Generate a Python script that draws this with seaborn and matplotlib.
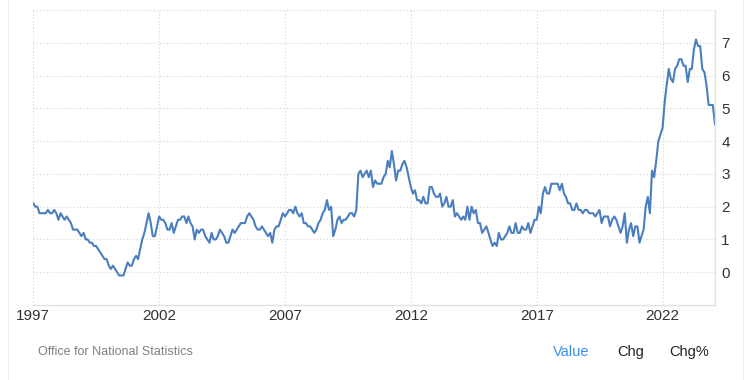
import matplotlib
matplotlib.use("Agg")
import matplotlib.pyplot as plt
import seaborn as sns
import pandas as pd
from matplotlib.lines import Line2D

# ---- data (monthly annual rate, %) ----
start_month = "1997-01-01"
values_1997 = [2.1, 2.0, 2.0, 1.8, 1.8, 1.8, 1.8, 1.9, 1.8, 1.8, 1.9, 1.8]
values_1998 = [1.6, 1.8, 1.7, 1.6, 1.7, 1.6, 1.5, 1.3, 1.3, 1.3, 1.2, 1.1]
values_1999 = [1.2, 1.0, 1.0, 0.9, 0.9, 0.8, 0.8, 0.7, 0.6, 0.5, 0.4, 0.4]
values_2000 = [0.2, 0.1, 0.2, 0.1, 0.0, -0.1, -0.1, -0.1, 0.1, 0.3, 0.2, 0.2]
values_2001 = [0.4, 0.5, 0.4, 0.7, 1.0, 1.2, 1.5, 1.8, 1.5, 1.1, 1.1, 1.4]
values_2002 = [1.7, 1.6, 1.6, 1.5, 1.3, 1.3, 1.5, 1.2, 1.4, 1.6, 1.6, 1.7]
values_2003 = [1.7, 1.5, 1.7, 1.5, 1.4, 1.0, 1.3, 1.2, 1.3, 1.3, 1.1, 1.0]
values_2004 = [0.9, 1.2, 1.0, 1.0, 1.1, 1.3, 1.2, 1.1, 0.9, 0.9, 1.1, 1.3]
values_2005 = [1.2, 1.3, 1.4, 1.5, 1.5, 1.5, 1.7, 1.8, 1.7, 1.6, 1.4, 1.3]
values_2006 = [1.3, 1.4, 1.3, 1.2, 1.1, 1.2, 0.9, 1.3, 1.4, 1.4, 1.6, 1.8]
values_2007 = [1.7, 1.8, 1.9, 1.9, 1.8, 2.0, 1.8, 1.7, 1.8, 1.5, 1.5, 1.4]
values_2008 = [1.4, 1.3, 1.2, 1.3, 1.5, 1.6, 1.8, 1.9, 2.2, 1.9, 2.0, 1.1]
values_2009 = [1.3, 1.6, 1.7, 1.5, 1.6, 1.6, 1.7, 1.8, 1.8, 1.7, 1.9, 3.0]
values_2010 = [3.1, 2.9, 3.0, 3.1, 2.9, 3.1, 2.6, 2.8, 2.7, 2.7, 2.7, 2.9]
values_2011 = [3.0, 3.4, 3.2, 3.7, 3.3, 2.8, 3.1, 3.1, 3.3, 3.4, 3.2, 2.9]
values_2012 = [2.6, 2.4, 2.5, 2.2, 2.2, 2.1, 2.3, 2.1, 2.1, 2.6, 2.6, 2.4]
values_2013 = [2.3, 2.3, 2.4, 2.0, 2.1, 2.3, 2.0, 2.0, 2.2, 1.7, 1.8, 1.7]
values_2014 = [1.6, 1.7, 1.6, 2.0, 1.6, 2.0, 1.8, 1.9, 1.5, 1.5, 1.2, 1.3]
values_2015 = [1.4, 1.2, 1.0, 0.8, 0.9, 0.8, 1.2, 1.0, 1.0, 1.1, 1.2, 1.4]
values_2016 = [1.2, 1.2, 1.5, 1.2, 1.2, 1.4, 1.3, 1.3, 1.5, 1.2, 1.4, 1.6]
values_2017 = [1.6, 2.0, 1.8, 2.4, 2.6, 2.4, 2.4, 2.7, 2.7, 2.7, 2.7, 2.5]
values_2018 = [2.7, 2.4, 2.3, 2.1, 2.1, 1.9, 1.9, 2.1, 1.9, 1.9, 1.8, 1.9]
values_2019 = [1.9, 1.8, 1.8, 1.8, 1.7, 1.8, 1.9, 1.5, 1.7, 1.7, 1.7, 1.4]
values_2020 = [1.6, 1.7, 1.6, 1.4, 1.2, 1.4, 1.8, 0.9, 1.3, 1.5, 1.1, 1.4]
values_2021 = [1.4, 0.9, 1.1, 1.3, 2.0, 2.3, 1.8, 3.1, 2.9, 3.4, 4.0, 4.2]
values_2022 = [4.4, 5.2, 5.7, 6.2, 5.9, 5.8, 6.2, 6.3, 6.5, 6.5, 6.3, 6.3]
values_2023 = [5.8, 6.2, 6.2, 6.8, 7.1, 6.9, 6.9, 6.2, 6.1, 5.7, 5.1, 5.1]
values_2024 = [5.1, 4.5]

tick_years = [1997, 2002, 2007, 2012, 2017, 2022]
y_tick_values = [0, 1, 2, 3, 4, 5, 6, 7, 8]
y_tick_labels = ["0", "1", "2", "3", "4", "5", "6", "7", ""]
source_text = "Office for National Statistics"
button_labels = ["Value", "Chg", "Chg%"]

series = (values_1997 + values_1998 + values_1999 + values_2000 + values_2001 +
          values_2002 + values_2003 + values_2004 + values_2005 + values_2006 +
          values_2007 + values_2008 + values_2009 + values_2010 + values_2011 +
          values_2012 + values_2013 + values_2014 + values_2015 + values_2016 +
          values_2017 + values_2018 + values_2019 + values_2020 + values_2021 +
          values_2022 + values_2023 + values_2024)
dates = pd.date_range(start_month, periods=len(series), freq="MS")
df = pd.DataFrame({"date": dates, "value": series})

# ---- styling ----
sns.set_theme(style="white")
plt.rcParams["font.family"] = ["Liberation Sans", "DejaVu Sans"]

W, H = 751, 380
fig = plt.figure(figsize=(W / 100, H / 100), dpi=100)
fig.patch.set_facecolor("white")
left_px, right_px, top_px, bottom_px = 33.3, 715.0, 10.0, 305.0
ax = fig.add_axes([left_px / W, 1 - bottom_px / H,
                   (right_px - left_px) / W, (bottom_px - top_px) / H])

sns.lineplot(data=df, x="date", y="value", ax=ax, color="#4a7ebf",
             linewidth=1.5, legend=False)

ax.set_xlim(dates[0], dates[-1])
ax.set_ylim(-1, 8)
ax.set_xticks([pd.Timestamp(f"{y}-01-01") for y in tick_years])
ax.set_xticklabels([str(y) for y in tick_years])
ax.set_yticks(y_tick_values)
ax.set_yticklabels(y_tick_labels)
ax.yaxis.tick_right()
ax.set_xlabel("")
ax.set_ylabel("")

ax.grid(True, linestyle=(0, (1, 2)), color="#d4d4d4", linewidth=0.8)
for side in ("left", "top"):
    ax.spines[side].set_visible(False)
for side in ("bottom", "right"):
    ax.spines[side].set_visible(True)
    ax.spines[side].set_color("#e2e2e2")
    ax.spines[side].set_linewidth(1.0)

ax.tick_params(axis="x", length=0, labelsize=11, colors="#333333", pad=3)
ax.tick_params(axis="y", length=0, labelsize=11, colors="#333333", pad=4.5)

# widget border lines
for xpx in (8, 743):
    fig.add_artist(Line2D([xpx / W, xpx / W], [0, 1], transform=fig.transFigure,
                          color="#eeeeee", linewidth=1))

# footer texts
fig.text(38 / W, 1 - 352 / H, source_text, fontsize=9, color="#808080",
         va="center", ha="left")
button_x = [553, 617, 669]
button_colors = ["#3a8ee6", "#222222", "#222222"]
for lbl, xpx, col in zip(button_labels, button_x, button_colors):
    fig.text(xpx / W, 1 - 352 / H, lbl, fontsize=10.5, color=col,
             va="center", ha="left")

fig.savefig("out.png", dpi=100, facecolor="white")
